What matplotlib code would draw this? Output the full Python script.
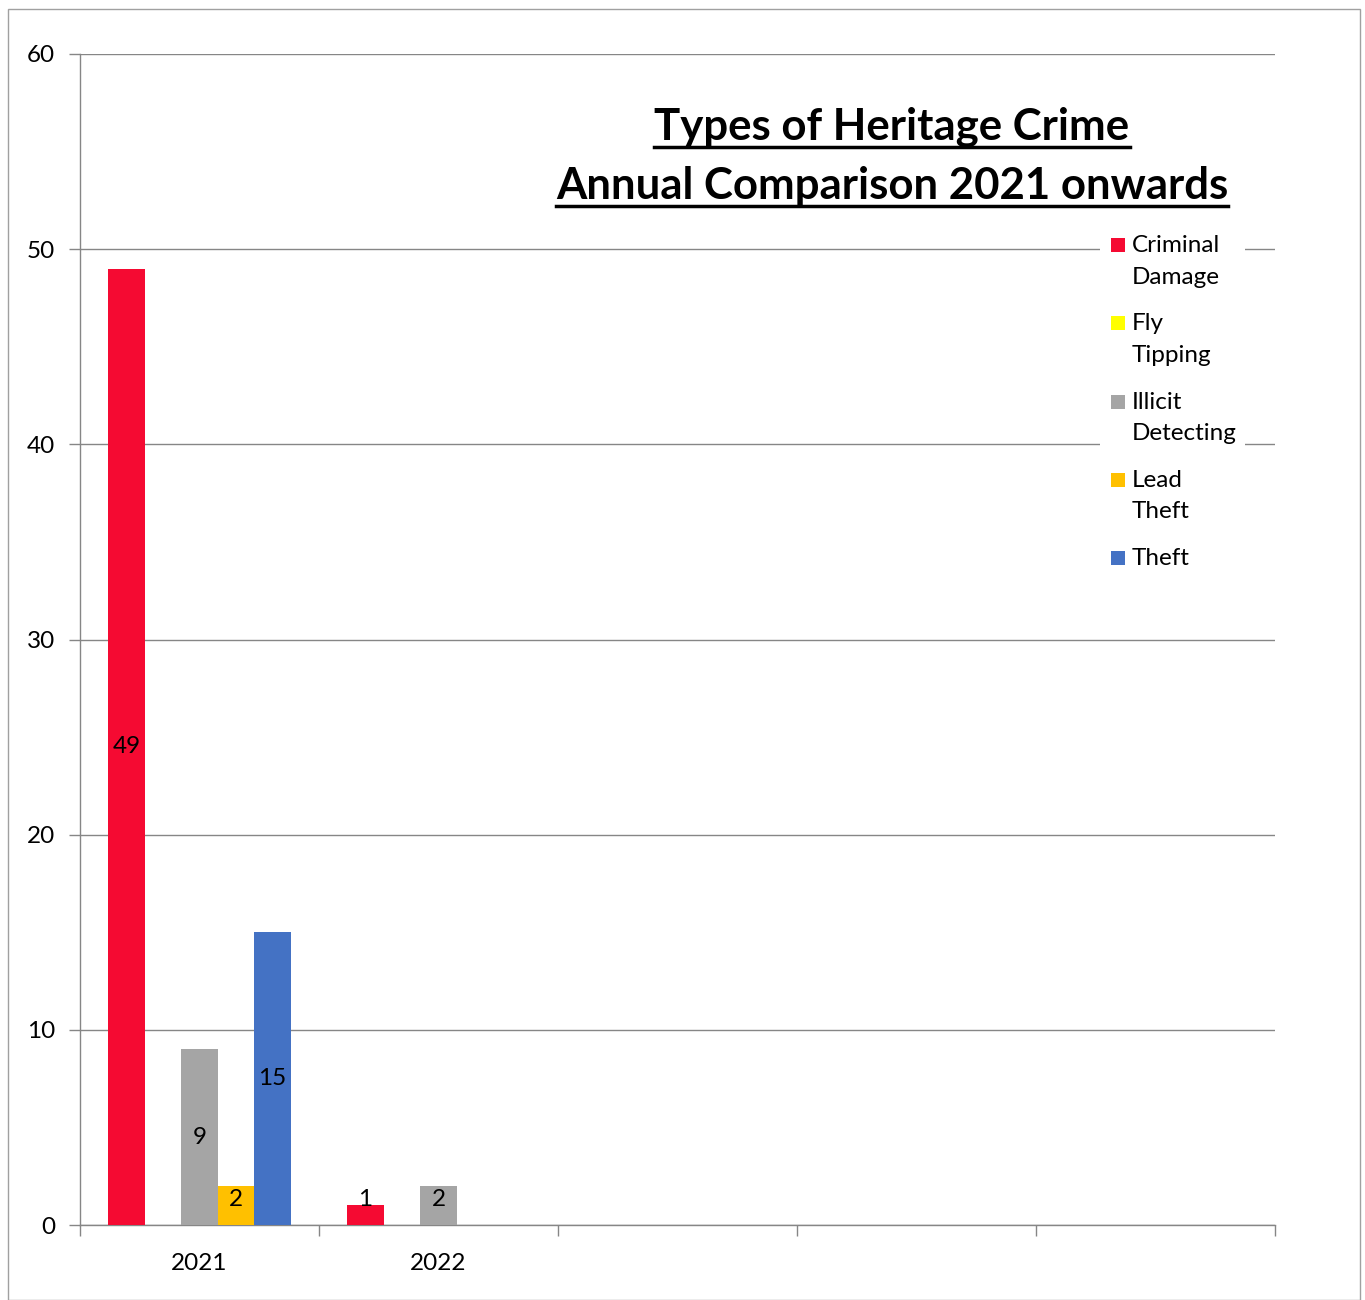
import numpy as np
import matplotlib.pyplot as plt
from matplotlib.patches import Rectangle

plt.rcParams['font.family'] = ['Lato', 'DejaVu Sans']

years = ['2021', '2022', '', '', '']
series = ['Criminal Damage', 'Fly Tipping', 'Illicit Detecting', 'Lead Theft', 'Theft']
legend_labels = ['Criminal\nDamage', 'Fly\nTipping', 'Illicit\nDetecting', 'Lead\nTheft', 'Theft']
colors = ['#F50A32', '#FFFF00', '#A5A5A5', '#FFC000', '#4472C4']
values = {
    'Criminal Damage': [49, 1, 0, 0, 0],
    'Fly Tipping': [0, 0, 0, 0, 0],
    'Illicit Detecting': [9, 2, 0, 0, 0],
    'Lead Theft': [2, 0, 0, 0, 0],
    'Theft': [15, 0, 0, 0, 0],
}

fig = plt.figure(figsize=(13.65, 13.0), dpi=100)
ax = fig.add_axes([80/1365, 1-1225/1300, 1195/1365, 1171/1300])

x = np.arange(len(years))
w = 0.153
gray = '#868686'
for i, s in enumerate(series):
    v = np.array(values[s])
    pos = x + (i - 2) * w
    ax.bar(pos, v, width=w, color=colors[i], zorder=3)
    for p, val in zip(pos, v):
        if val > 0:
            ax.text(p, max(val / 2, 1.3), str(val), ha='center', va='center',
                    fontsize=17.5, zorder=4)

ax.set_xlim(-0.5, len(years) - 0.5)
ax.set_ylim(0, 60)
ax.set_yticks(range(0, 61, 10))
ax.yaxis.grid(True, color=gray, linewidth=1.0, zorder=0)
ax.set_xticks(x)
ax.set_xticklabels(years)
ax.set_xticks(np.arange(-0.5, len(years), 1), minor=True)
ax.tick_params(axis='x', which='major', length=0, pad=20, labelsize=17.5)
ax.tick_params(axis='x', which='minor', length=8, color=gray, width=1.0)
ax.tick_params(axis='y', length=8, color=gray, width=1.0, labelsize=17.5, pad=10)
for sp in ['top', 'right']:
    ax.spines[sp].set_visible(False)
for sp in ['left', 'bottom']:
    ax.spines[sp].set_color(gray)
    ax.spines[sp].set_linewidth(1.0)

# title with underline
fig.canvas.draw()
renderer = fig.canvas.get_renderer()
for txt, yc in [('Types of Heritage Crime', 127), ('Annual Comparison 2021 onwards', 186)]:
    t = fig.text(892/1365, 1 - yc/1300, txt, ha='center', va='center',
                 fontsize=31.5, fontweight='bold')
    bb = t.get_window_extent(renderer=renderer)
    yl = (1 - (yc + 20)/1300)
    fig.add_artist(plt.Line2D([bb.x0/1365, bb.x1/1365], [yl, yl],
                              color='black', linewidth=2.5))

# legend
fig.add_artist(Rectangle((1100/1365, 1 - 585/1300), 145/1365, 355/1300,
                         transform=fig.transFigure, facecolor='white',
                         edgecolor='none', zorder=5))
for i, lab in enumerate(legend_labels):
    yc = 245 + i * 78.3
    fig.add_artist(Rectangle((1111/1365, 1 - (yc + 7)/1300), 14/1365, 14/1300,
                             transform=fig.transFigure, facecolor=colors[i],
                             edgecolor='none', zorder=6))
    fig.text(1132/1365, 1 - (yc - 10)/1300, lab, ha='left', va='top',
             fontsize=17.5, linespacing=1.62, zorder=7)

# outer border
fig.add_artist(Rectangle((8/1365, 0), 1352/1365, 1 - 9/1300,
                         transform=fig.transFigure, facecolor='none',
                         edgecolor='#A0A0A0', linewidth=1.0))

fig.savefig('out.png', dpi=100)
